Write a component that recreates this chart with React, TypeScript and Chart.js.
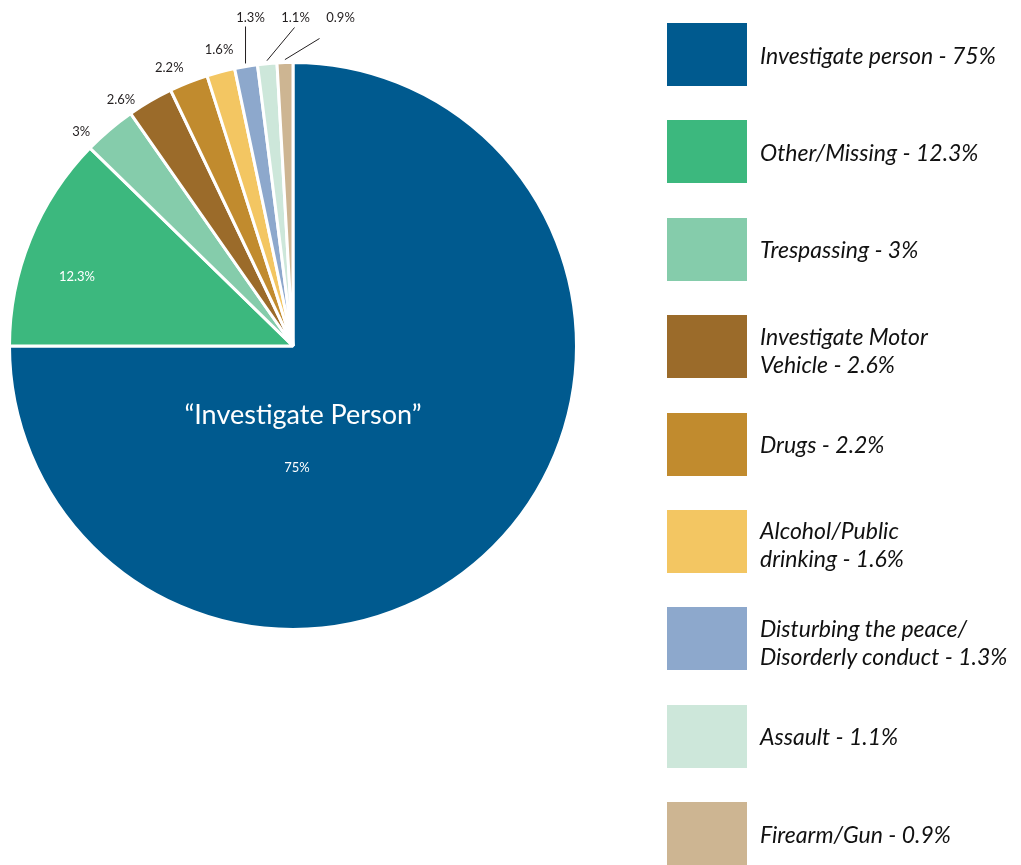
import React, { useEffect, useRef } from "react";
import { Chart, registerables } from "chart.js";

Chart.register(...registerables);

const categories = [
  "Investigate person",
  "Other/Missing",
  "Trespassing",
  "Investigate Motor Vehicle",
  "Drugs",
  "Alcohol/Public drinking",
  "Disturbing the peace/ Disorderly conduct",
  "Assault",
  "Firearm/Gun",
];
const legendLines = [
  ["Investigate person - 75%"],
  ["Other/Missing - 12.3%"],
  ["Trespassing - 3%"],
  ["Investigate Motor", "Vehicle - 2.6%"],
  ["Drugs - 2.2%"],
  ["Alcohol/Public", "drinking - 1.6%"],
  ["Disturbing the peace/", "Disorderly conduct - 1.3%"],
  ["Assault - 1.1%"],
  ["Firearm/Gun - 0.9%"],
];
const values = [75, 12.3, 3, 2.6, 2.2, 1.6, 1.3, 1.1, 0.9];
const valueLabels = ["75%", "12.3%", "3%", "2.6%", "2.2%", "1.6%", "1.3%", "1.1%", "0.9%"];
const colors = [
  "#005A8F",
  "#3CB87E",
  "#85CCAB",
  "#9B6B2A",
  "#C18B2E",
  "#F3C662",
  "#8DA8CC",
  "#CDE7DA",
  "#CDB592",
];
const labelModes = ["center", "inside", "outside", "outside", "outside", "outside", "callout", "callout", "callout"];
// where along each slice's angular span its label sits (style only)
const labelAnchor = [0.5, 0.4, 0.1, 0, 0.2, 0.63, 0.5, 0.5, 0.5];
const labelGap = [0, 0, 18, 17, 21, 22, 3, 3, 3];

const FONT = "Lato, 'Open Sans', sans-serif";

const labelPlugin = {
  id: "sliceLabels",
  afterDatasetsDraw(chart: any) {
    const ctx = chart.ctx;
    const meta = chart.getDatasetMeta(0);
    let calloutIndex = 0;
    let firstCalloutX = 0;
    ctx.save();
    meta.data.forEach((arc: any, i: number) => {
      const p = arc.getProps(["x", "y", "startAngle", "endAngle", "outerRadius"], true);
      const cx = p.x, cy = p.y, R = p.outerRadius;
      const a = p.startAngle + (p.endAngle - p.startAngle) * labelAnchor[i];
      const mode = labelModes[i];
      ctx.textAlign = "center";
      ctx.textBaseline = "middle";
      if (mode === "center") {
        ctx.fillStyle = "#ffffff";
        ctx.font = `27px ${FONT}`;
        ctx.fillText("\u201CInvestigate Person\u201D", cx + 10, cy + 69);
        ctx.font = `13px ${FONT}`;
        ctx.fillText(valueLabels[i], cx + 4, cy + 122);
      } else if (mode === "inside") {
        const r = R * 0.8;
        ctx.fillStyle = "#ffffff";
        ctx.font = `13px ${FONT}`;
        ctx.fillText(valueLabels[i], cx + r * Math.cos(a), cy + r * Math.sin(a));
      } else if (mode === "outside") {
        const r = R + labelGap[i];
        ctx.fillStyle = "#231f20";
        ctx.font = `13px ${FONT}`;
        ctx.fillText(valueLabels[i], cx + r * Math.cos(a), cy + r * Math.sin(a));
      } else {
        const ax = cx + (R + labelGap[i]) * Math.cos(a);
        const ay = cy + (R + labelGap[i]) * Math.sin(a);
        if (calloutIndex === 0) firstCalloutX = ax;
        const lx = firstCalloutX + 5 + calloutIndex * 45;
        const ly = cy - R - 45;
        const endDx = [-5, -1, -21][calloutIndex];
        const endDy = [9, 10, 21][calloutIndex];
        ctx.strokeStyle = "#231f20";
        ctx.lineWidth = 1;
        ctx.beginPath();
        ctx.moveTo(ax, ay);
        ctx.lineTo(lx + endDx, ly + endDy);
        ctx.stroke();
        ctx.fillStyle = "#231f20";
        ctx.font = `13px ${FONT}`;
        ctx.fillText(valueLabels[i], lx, ly);
        calloutIndex++;
      }
    });
    ctx.restore();
  },
};

export default function App() {
  const canvasRef = useRef<HTMLCanvasElement | null>(null);

  useEffect(() => {
    document.body.style.margin = "0";
    const canvas = canvasRef.current;
    if (!canvas) return;
    const chart = new Chart(canvas, {
      type: "pie",
      data: {
        labels: categories,
        datasets: [
          {
            data: values,
            backgroundColor: colors,
            borderColor: "#ffffff",
            borderWidth: 3,
          },
        ],
      },
      options: {
        responsive: false,
        animation: false,
        layout: { padding: { left: 8, top: 61, right: 443, bottom: 234 } },
        plugins: {
          legend: { display: false },
          tooltip: { enabled: false },
        },
      },
      plugins: [labelPlugin],
    });
    return () => chart.destroy();
  }, []);

  return (
    <div style={{ position: "relative", width: 1021, height: 865, background: "#fff", overflow: "hidden" }}>
      <canvas ref={canvasRef} width={1021} height={865} style={{ position: "absolute", left: 0, top: 0, width: 1021, height: 865 }} />
      <div style={{ position: "absolute", left: 667, top: 23 }}>
        {categories.map((c, i) => (
          <div key={c} style={{ display: "flex", alignItems: "center", height: 63, marginBottom: 34.4 }}>
            <div style={{ width: 80, height: 63, background: colors[i], flexShrink: 0 }} />
            <div
              style={{
                marginLeft: 13,
                marginTop: legendLines[i].length > 1 ? 6 : 0,
                fontFamily: FONT,
                fontStyle: "italic",
                fontSize: 23,
                lineHeight: "28px",
                color: "#111",
                whiteSpace: "nowrap",
              }}
            >
              {legendLines[i].map((l, j) => (
                <div key={j}>{l}</div>
              ))}
            </div>
          </div>
        ))}
      </div>
    </div>
  );
}
